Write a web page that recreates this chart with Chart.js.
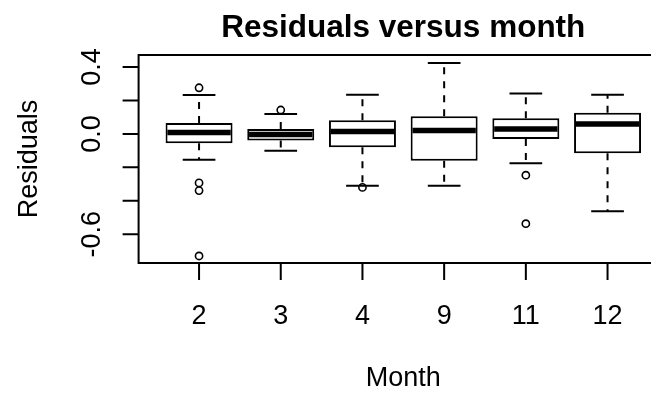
<!DOCTYPE html>
<html>
<head>
<meta charset="utf-8">
<script src="https://cdn.jsdelivr.net/npm/chart.js@4/dist/chart.umd.min.js"></script>
<style>
  html, body { margin: 0; padding: 0; background: #fff; overflow: hidden; }
  #wrap { width: 651px; height: 393px; overflow: hidden; }
</style>
</head>
<body>
<div id="wrap"><canvas id="grfc-resid" width="680" height="393"></canvas></div>
<script>
// residuals per month: five-number summaries + outliers
const months = ['2', '3', '4', '9', '11', '12'];
const whiskLo = [-0.155, -0.101, -0.310, -0.310, -0.175, -0.463];
const q1 = [-0.056, -0.040, -0.080, -0.161, -0.030, -0.115];
const median = [0.008, -0.004, 0.014, 0.020, 0.030, 0.060];
const q3 = [0.066, 0.030, 0.082, 0.106, 0.094, 0.126];
const whiskHi = [0.233, 0.119, 0.235, 0.424, 0.241, 0.234];
const outMonth = ['2', '2', '2', '2', '3', '4', '11', '11'];
const outValue = [0.276, -0.293, -0.339, -0.730, 0.143, -0.320, -0.247, -0.537];

const yTicks = [-0.6, -0.4, -0.2, 0.0, 0.2, 0.4];
const yTickLabels = ['-0.6', '', '', '0.0', '', '0.4'];

const FONT = '"Liberation Sans", Arial, sans-serif';

const boxData = months.map((m, i) => ({ x: i + 1, y: [q1[i], q3[i]] }));
const outData = outMonth.map((m, i) => ({ x: months.indexOf(m) + 1, y: outValue[i] }));

// whiskers, medians, frame and axes in the style of base R
const rBox = {
  id: 'rBox',
  beforeDatasetsDraw(chart) {
    const { ctx, scales: { x, y } } = chart;
    ctx.save();
    ctx.strokeStyle = '#000';
    ctx.lineWidth = 2;
    months.forEach((m, i) => {
      const px = x.getPixelForValue(i + 1);
      ctx.setLineDash([7, 7]);
      ctx.beginPath();
      ctx.moveTo(px, y.getPixelForValue(q3[i]));
      ctx.lineTo(px, y.getPixelForValue(whiskHi[i]));
      ctx.moveTo(px, y.getPixelForValue(q1[i]));
      ctx.lineTo(px, y.getPixelForValue(whiskLo[i]));
      ctx.stroke();
      ctx.setLineDash([]);
      const l = x.getPixelForValue(i + 0.8), r = x.getPixelForValue(i + 1.2);
      ctx.beginPath();
      [whiskHi[i], whiskLo[i]].forEach(v => {
        const py = y.getPixelForValue(v);
        ctx.moveTo(l, py);
        ctx.lineTo(r, py);
      });
      ctx.stroke();
    });
    ctx.restore();
  },
  afterDatasetsDraw(chart) {
    const { ctx, scales: { x, y } } = chart;
    ctx.save();
    ctx.strokeStyle = '#000';
    ctx.lineWidth = 5.5;
    months.forEach((m, i) => {
      const py = y.getPixelForValue(median[i]);
      ctx.beginPath();
      ctx.moveTo(x.getPixelForValue(i + 0.6) + 1, py);
      ctx.lineTo(x.getPixelForValue(i + 1.4) - 1, py);
      ctx.stroke();
    });
    ctx.restore();
  },
  afterDraw(chart) {
    const { ctx, chartArea: a, scales: { x, y } } = chart;
    ctx.save();
    ctx.strokeStyle = '#000';
    ctx.fillStyle = '#000';
    ctx.lineWidth = 2;
    ctx.strokeRect(a.left, a.top, a.right - a.left, a.bottom - a.top);

    // x axis
    ctx.beginPath();
    ctx.moveTo(x.getPixelForValue(1), a.bottom);
    ctx.lineTo(x.getPixelForValue(months.length), a.bottom);
    months.forEach((m, i) => {
      const px = x.getPixelForValue(i + 1);
      ctx.moveTo(px, a.bottom);
      ctx.lineTo(px, a.bottom + 17);
    });
    ctx.stroke();
    ctx.font = '27px ' + FONT;
    ctx.textAlign = 'center';
    ctx.textBaseline = 'alphabetic';
    months.forEach((m, i) => ctx.fillText(m, x.getPixelForValue(i + 1), 324));

    // y axis
    ctx.beginPath();
    yTicks.forEach(v => {
      const py = y.getPixelForValue(v);
      ctx.moveTo(a.left, py);
      ctx.lineTo(a.left - 16, py);
    });
    ctx.stroke();
    yTicks.forEach((v, i) => {
      if (!yTickLabels[i]) return;
      ctx.save();
      ctx.translate(100, y.getPixelForValue(v));
      ctx.rotate(-Math.PI / 2);
      ctx.fillText(yTickLabels[i], 0, 0);
      ctx.restore();
    });

    // axis titles
    ctx.fillText('Month', (a.left + a.right) / 2, 386);
    ctx.save();
    ctx.translate(37, (a.top + a.bottom) / 2);
    ctx.rotate(-Math.PI / 2);
    ctx.fillText('Residuals', 0, 0);
    ctx.restore();

    // main title
    ctx.font = 'bold 31.5px ' + FONT;
    ctx.fillText('Residuals versus month', (a.left + a.right) / 2, 37);
    ctx.restore();
  }
};

new Chart(document.getElementById('grfc-resid'), {
  type: 'bar',
  data: {
    datasets: [{
      label: 'box',
      data: boxData,
      backgroundColor: '#fff',
      borderColor: '#000',
      borderWidth: 2,
      borderSkipped: false,
      barPercentage: 0.82,
      categoryPercentage: 1
    }, {
      type: 'scatter',
      label: 'outliers',
      data: outData,
      pointStyle: 'circle',
      pointRadius: 3.6,
      borderWidth: 1.6,
      borderColor: '#000',
      backgroundColor: 'rgba(0,0,0,0)'
    }]
  },
  options: {
    responsive: false,
    devicePixelRatio: 1,
    animation: false,
    layout: { padding: { left: 138.6, right: 12, top: 55, bottom: 130 } },
    scales: {
      x: {
        type: 'linear', min: 0.26, max: 6.74, offset: false, display: false,
        // one tick per month group, so bar widths follow the group spacing
        afterBuildTicks: s => { s.ticks = months.map((m, i) => ({ value: i + 1 })); }
      },
      y: { type: 'linear', min: -0.772, max: 0.472, display: false }
    },
    plugins: { legend: { display: false }, tooltip: { enabled: false } }
  },
  plugins: [rBox]
});
</script>
</body>
</html>
